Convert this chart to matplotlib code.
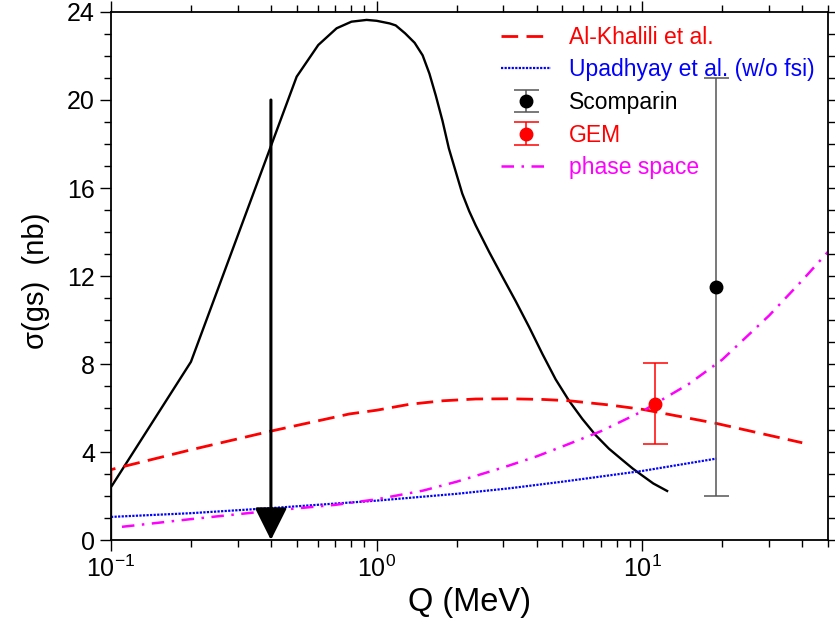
import numpy as np
import matplotlib
matplotlib.use('Agg')
import matplotlib.pyplot as plt
from matplotlib.ticker import FixedLocator, NullFormatter, LogLocator

plt.rcParams['font.family'] = ['Liberation Sans', 'DejaVu Sans']
plt.rcParams['axes.unicode_minus'] = False

# black solid curve
q_black = [0.1, 0.1, 0.2, 0.5, 0.603, 0.707, 0.804, 0.917, 1.0, 1.12, 1.18, 1.28, 1.39, 1.49,
           1.58, 1.67, 1.77, 1.87, 1.99, 2.10, 2.23, 2.36, 2.65, 2.98, 3.34, 3.75, 4.21,
           4.72, 5.3, 5.95, 6.67, 7.49, 8.41, 9.2, 10.0, 11.0, 12.4]
s_black = [0.0, 2.4, 8.1, 21.06, 22.5, 23.26, 23.56, 23.64, 23.6, 23.48, 23.39, 23.03, 22.6, 22.03,
           21.2, 20.2, 19.05, 17.8, 16.7, 15.75, 14.95, 14.3, 13.1, 11.95, 10.85, 9.68, 8.45,
           7.3, 6.33, 5.5, 4.77, 4.15, 3.64, 3.25, 2.93, 2.57, 2.23]

# Al-Khalili et al.
q_alk = [0.1, 0.1, 0.2, 0.4, 0.79, 1.0, 1.33, 1.78, 2.36, 3.16, 4.21, 5.3, 7.49, 10.0, 19.0, 40.0]
s_alk = [2.65, 3.2, 4.1, 4.95, 5.73, 5.9, 6.17, 6.33, 6.41, 6.42, 6.39, 6.33, 6.14, 5.94, 5.3, 4.42]

# Upadhyay et al. (w/o fsi)
q_upa = [0.1, 0.2, 0.4, 1.0, 2.0, 3.16, 5.0, 10.0, 19.0]
s_upa = [1.05, 1.22, 1.45, 1.79, 2.1, 2.35, 2.65, 3.14, 3.7]

# phase space
q_ps = [0.11, 0.2, 0.4, 0.7, 1.0, 1.5, 2.0, 3.0, 4.0, 5.0, 7.0, 10.0, 15.0, 20.0, 30.0, 40.0, 50.0]
s_ps = [0.6, 0.95, 1.33, 1.6, 1.85, 2.25, 2.65, 3.3, 3.8, 4.25, 4.95, 5.85, 7.1, 8.2, 10.2, 11.8, 13.1]

# data points
q_scomp, s_scomp, lo_scomp, hi_scomp = 19.0, 11.5, 2.0, 21.0
q_gem, s_gem, lo_gem, hi_gem = 11.2, 6.2, 4.35, 8.03

# upper limit arrow
q_arrow, arrow_top = 0.4, 20.0

fig = plt.figure(figsize=(8.35, 6.28), dpi=100)
ax = fig.add_axes([0.1329, 0.1401, 0.8587, 0.8408])

ax.plot(q_black, s_black, color='black', lw=1.7)
h_alk, = ax.plot(q_alk, s_alk, color='red', lw=2.0, dashes=(6, 3), label='Al-Khalili et al.')
h_upa, = ax.plot(q_upa, s_upa, color='blue', lw=1.6, dashes=(1, 0.6),
                 label='Upadhyay et al. (w/o fsi)')
h_sc = ax.errorbar([q_scomp], [s_scomp], yerr=[[s_scomp - lo_scomp], [hi_scomp - s_scomp]],
                   fmt='o', color='black', ecolor='#555555', elinewidth=1.1, capsize=9,
                   capthick=1.1, ms=9, label='Scomparin')
h_gem = ax.errorbar([q_gem], [s_gem], yerr=[[s_gem - lo_gem], [hi_gem - s_gem]],
                    fmt='o', color='red', ecolor='red', elinewidth=1.1, capsize=9,
                    capthick=1.1, ms=9, label='GEM')
h_ps, = ax.plot(q_ps, s_ps, color='magenta', lw=1.8, dashes=(5, 3, 1, 3), label='phase space')

ax.annotate('', xy=(q_arrow, 0), xytext=(q_arrow, arrow_top),
            arrowprops=dict(arrowstyle='-|>,head_width=0.5,head_length=1.0', lw=2.2,
                            color='black', shrinkA=0, shrinkB=0, mutation_scale=20))

ax.set_xscale('log')
ax.set_xlim(0.1, 50)
ax.set_ylim(0, 24)
ax.set_yticks(np.arange(0, 25, 4))
ax.yaxis.set_minor_locator(FixedLocator(np.arange(0, 25, 1)))
ax.xaxis.set_minor_locator(LogLocator(base=10, subs=np.arange(2, 10)))
ax.xaxis.set_minor_formatter(NullFormatter())

ax.tick_params(which='both', direction='out', top=True, right=True, labelsize=18, width=1.0)
ax.tick_params(which='major', length=8)
ax.tick_params(which='minor', length=5)
for sp in ax.spines.values():
    sp.set_linewidth(1.3)

ax.set_xlabel('Q (MeV)', fontsize=23.5, labelpad=3)
ax.set_ylabel('σ(gs)  (nb)', fontsize=21)
ax.yaxis.set_label_coords(-0.085, 0.49)

handles = [h_alk, h_upa, h_sc, h_gem, h_ps]
labels = ['Al-Khalili et al.', 'Upadhyay et al. (w/o fsi)', 'Scomparin', 'GEM', 'phase space']
leg = ax.legend(handles, labels, loc='upper right', frameon=False, fontsize=16.5,
                handlelength=2.2, handletextpad=0.75, labelspacing=0.42, borderaxespad=0.2,
                bbox_to_anchor=(1.0, 1.0))
for txt, c in zip(leg.get_texts(), ['red', 'blue', 'black', 'red', 'magenta']):
    txt.set_color(c)

fig.savefig('out.png', dpi=100)
